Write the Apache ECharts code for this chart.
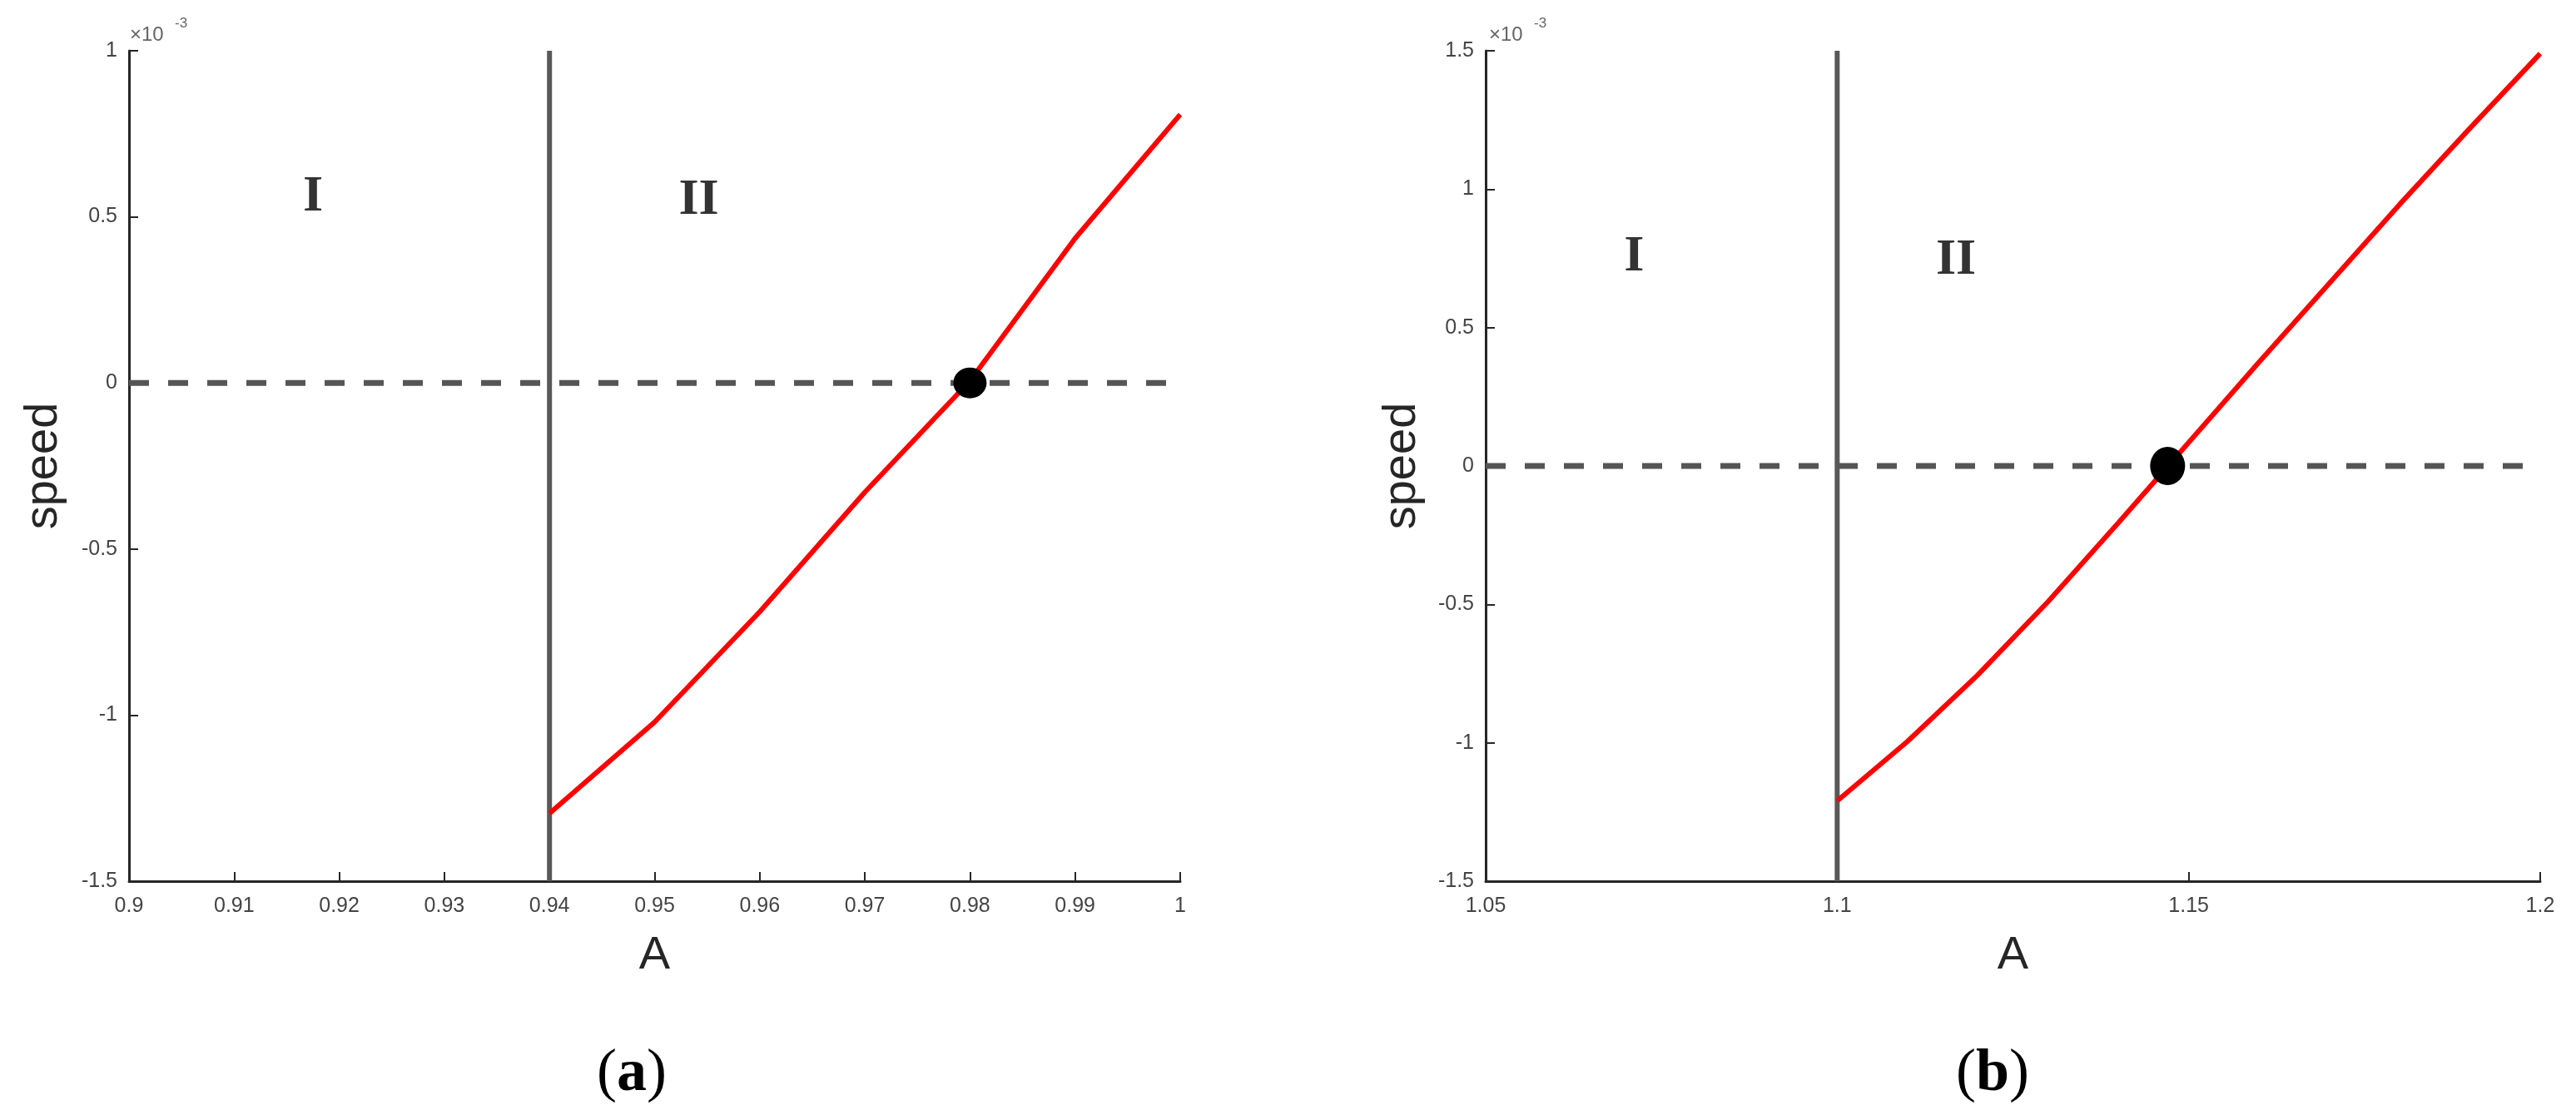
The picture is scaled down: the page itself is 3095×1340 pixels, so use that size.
<!DOCTYPE html>
<html>
<head>
<meta charset="utf-8">
<script src="https://cdn.jsdelivr.net/npm/echarts@6/dist/echarts.min.js"></script>
<style>
  html, body { margin: 0; padding: 0; background: #fff; }
  #chart { width: 3095px; height: 1340px; }
</style>
</head>
<body>
<div id="chart"></div>
<script>
// panel (a)
var aX = [0.94, 0.95, 0.96, 0.97, 0.98, 0.99, 1.00];
var aSpeed = [-1.296, -1.021, -0.689, -0.329, 0.006, 0.435, 0.808];
var aZero = [0.98, 0];
var aBoundary = 0.94;
var aRange = { xmin: 0.9, xmax: 1.0, xstep: 0.01, ymin: -1.5, ymax: 1.0 };
var aRegions = [['I', 0.9175, 0.56], ['II', 0.9542, 0.55]];

// panel (b)
var bX = [1.10, 1.11, 1.12, 1.13, 1.14, 1.15, 1.16, 1.17, 1.18, 1.19, 1.20];
var bSpeed = [-1.21, -0.995, -0.755, -0.49, -0.205, 0.085, 0.375, 0.66, 0.945, 1.22, 1.49];
var bZero = [1.147, 0];
var bBoundary = 1.1;
var bRange = { xmin: 1.05, xmax: 1.2, xstep: 0.05, ymin: -1.5, ymax: 1.5 };
var bRegions = [['I', 1.0711, 0.755], ['II', 1.1169, 0.742]];

var yTicks = 0.5;

var chart = echarts.init(document.getElementById('chart'));

function fmt(v) { return String(parseFloat(v.toFixed(3))); }

function xAxisOf(idx, r) {
    return {
        type: 'value', gridIndex: idx, min: r.xmin, max: r.xmax, interval: r.xstep,
        name: 'A', nameLocation: 'middle', nameGap: 62,
        nameTextStyle: { fontSize: 56, color: '#262626' },
        axisLine: { show: true, onZero: false, lineStyle: { color: '#262626', width: 3 } },
        axisTick: { show: true, inside: true, length: 11, lineStyle: { color: '#262626', width: 2 } },
        axisLabel: { color: '#444', fontSize: 25, margin: 18, formatter: fmt },
        splitLine: { show: false }
    };
}
function yAxisOf(idx, r, gap) {
    return {
        type: 'value', gridIndex: idx, min: r.ymin, max: r.ymax, interval: yTicks,
        name: 'speed', nameLocation: 'middle', nameGap: gap,
        nameTextStyle: { fontSize: 56, color: '#262626' },
        axisLine: { show: true, onZero: false, lineStyle: { color: '#262626', width: 3 } },
        axisTick: { show: true, inside: true, length: 11, lineStyle: { color: '#262626', width: 2 } },
        axisLabel: { color: '#444', fontSize: 25, margin: 14, formatter: fmt },
        splitLine: { show: false }
    };
}

function panelSeries(idx, r, xs, ys, zero, boundary, regions, dotSize) {
    var curve = xs.map(function (x, i) { return [x, ys[i]]; });
    return [
        {
            type: 'line', xAxisIndex: idx, yAxisIndex: idx, symbol: 'none', z: 1,
            data: [[r.xmin, 0], [r.xmax, 0]],
            lineStyle: { color: '#555', width: 7, type: [24, 23] }
        },
        {
            type: 'line', xAxisIndex: idx, yAxisIndex: idx, symbol: 'none', z: 2,
            data: [[boundary, r.ymin], [boundary, r.ymax]],
            lineStyle: { color: '#595959', width: 6 }
        },
        {
            type: 'line', xAxisIndex: idx, yAxisIndex: idx, symbol: 'none', z: 3,
            data: curve,
            lineStyle: { color: '#ff0000', width: 6 }
        },
        {
            type: 'scatter', xAxisIndex: idx, yAxisIndex: idx, z: 4,
            symbol: 'circle', symbolSize: dotSize,
            data: [zero],
            itemStyle: { color: '#000', opacity: 1 }
        },
        {
            type: 'scatter', xAxisIndex: idx, yAxisIndex: idx, z: 5,
            symbolSize: 1, itemStyle: { color: 'rgba(0,0,0,0)' },
            data: regions.map(function (d) { return { name: d[0], value: [d[1], d[2]] }; }),
            label: {
                show: true, position: 'inside', formatter: '{b}',
                fontFamily: 'Liberation Serif', fontWeight: 'bold', fontSize: 62, color: '#000'
            }
        }
    ];
}

function caption(letter, cx) {
    return {
        type: 'text', left: cx - 40, top: 1255,
        style: {
            text: '(' + '{b|' + letter + '}' + ')',
            font: '72px "Liberation Serif"', fill: '#000',
            rich: { b: { fontFamily: 'Liberation Serif', fontWeight: 'bold', fontSize: 72, fill: '#000' } }
        }
    };
}
function exponent(x) {
    return [
        { type: 'text', left: x, top: 30, style: { text: '×10', font: '24px "Liberation Sans"', fill: '#666' } },
        { type: 'text', left: x + 54, top: 20, style: { text: '-3', font: '17px "Liberation Sans"', fill: '#666' } }
    ];
}

var option = {
    animation: false,
    textStyle: { fontFamily: 'Liberation Sans' },
    grid: [
        { left: 155, top: 61, width: 1263, height: 998 },
        { left: 1785, top: 61, width: 1267, height: 998 }
    ],
    xAxis: [xAxisOf(0, aRange), xAxisOf(1, bRange)],
    yAxis: [yAxisOf(0, aRange, 74), yAxisOf(1, bRange, 72)],
    series: panelSeries(0, aRange, aX, aSpeed, aZero, aBoundary, aRegions, [40, 37])
        .concat(panelSeries(1, bRange, bX, bSpeed, bZero, bBoundary, bRegions, [42, 46])),
    graphic: exponent(156).concat(exponent(1789)).concat([caption('a', 757), caption('b', 2390)])
};

chart.setOption(option);
window.addEventListener('resize', function () { chart.resize(); });
</script>
</body>
</html>
